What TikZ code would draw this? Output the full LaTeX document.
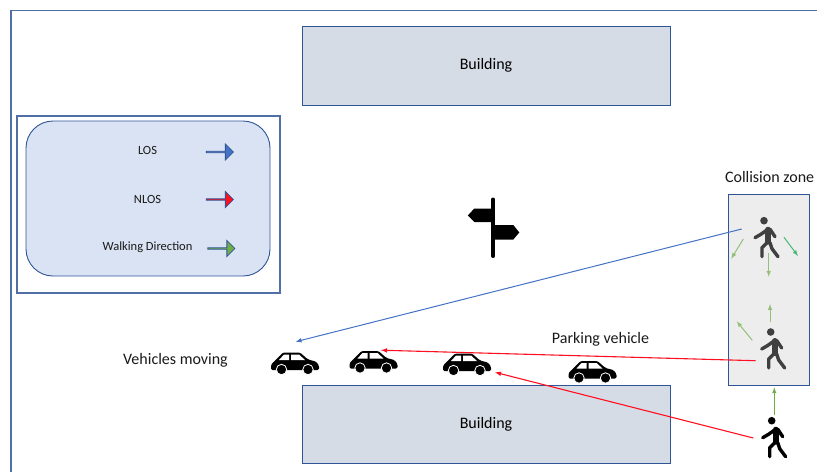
\documentclass[tikz,border=0pt]{standalone}
\usepackage{fontspec}
\setmainfont{Carlito}
\usepackage{tikz}
\usetikzlibrary{shapes,arrows,positioning}
\definecolor{frameblue}{HTML}{4F6FA5}
\definecolor{edgeblue}{HTML}{2F5597}
\definecolor{bldgfill}{HTML}{D6DCE5}
\definecolor{legendfill}{HTML}{DAE3F3}
\definecolor{zonefill}{HTML}{EDEDED}
\definecolor{losblue}{HTML}{4472C4}
\definecolor{nlosred}{HTML}{FF0F1F}
\definecolor{walkgreen}{HTML}{70AD47}
\definecolor{softgreen}{HTML}{93BF78}
\definecolor{tealgreen}{HTML}{4CB878}
\definecolor{pedgray}{HTML}{404040}
\tikzstyle{frame} = [draw=frameblue, line width=1.2pt]
\tikzstyle{bldg} = [draw=edgeblue, fill=bldgfill, line width=1pt, font=\fontsize{16}{19}\selectfont]
\tikzstyle{label16} = [font=\fontsize{16}{19}\selectfont, text=black!90]
\tikzstyle{label12} = [font=\fontsize{12.5}{15}\selectfont, text=black!90]
\tikzstyle{legarrow} = [single arrow, draw=edgeblue, line width=0.8pt, minimum height=27pt, minimum width=16pt, single arrow head extend=4pt, inner sep=0pt]
\tikzstyle{los} = [draw=losblue, line width=1pt, -latex]
\tikzstyle{nlos} = [draw=nlosred, line width=1.1pt, -latex]
\tikzstyle{walk} = [draw=softgreen, line width=1pt, -latex]
\tikzset{
	caricon/.pic={
		\fill [black, rounded corners=1.5pt] (0,17.5) -- (0,12) -- (4,8) -- (12,0) -- (29,0) -- (37,7) -- (45,9) -- (48,13) -- (48,17.5) -- cycle;
		\fill [white] (13,2) -- (18,2) -- (18,7.5) -- (8,7.5) -- cycle;
		\fill [white] (20,2) -- (28,2) -- (34,7.5) -- (20,7.5) -- cycle;
		\filldraw [black, draw=white, line width=0.8pt] (10.5,17) circle (5.2);
		\filldraw [black, draw=white, line width=0.8pt] (37,17) circle (5.2);
	},
	pedicon/.pic={
		\fill (0,0) circle (3.8);
		\draw [line width=6pt, line cap=round] (4,9) -- (4,21);
		\draw [line width=3.4pt, line cap=round, line join=round] (4,8.5) -- (-3,13.5) -- (-9,17);
		\draw [line width=3.4pt, line cap=round, line join=round] (6,8.5) -- (11,16);
		\draw [line width=3.4pt, line cap=round, line join=round] (3,22) -- (-2,27) -- (-2,36);
		\draw [line width=3.4pt, line cap=round, line join=round] (6,22) -- (8,28) -- (14,36);
	},
	signicon/.pic={
		\draw [black, line width=4pt, line cap=round] (0,0) -- (0,56.5);
		\fill [black] (0,9) -- (-19,9) -- (-25.5,16) -- (-19,22.5) -- (0,22.5) -- cycle;
		\fill [black] (0,25.5) -- (20,25.5) -- (26,33) -- (20,40) -- (0,40) -- cycle;
	}
}

\begin{document}
\begin{tikzpicture}[x=1pt, y=-1pt]
	\useasboundingbox (0,0) rectangle (817,472);
	\coordinate (framestart) at (817,10.5);
	\coordinate (framecorner) at (11,10.5);
	\coordinate (frameend) at (11,472);
	\path [frame] (framestart) -- (framecorner) -- (frameend);

	% buildings
	\node [bldg, minimum width=368pt, minimum height=79pt] (bldgtop) at (486,65.5) {Building};
	\node [bldg, minimum width=368pt, minimum height=78pt] (bldgbot) at (486,424.5) {Building};

	% legend
	\node [frame, minimum width=263pt, minimum height=177pt] (legendframe) at (148.5,204.5) {};
	\node [draw=edgeblue, fill=legendfill, line width=0.9pt, rounded corners=27pt, minimum width=244pt, minimum height=155pt] (legendbox) at (148,198.5) {};
	\node [label12] (lostext) at (147.5,150) {LOS};
	\node [label12] (nlostext) at (147.5,199) {NLOS};
	\node [label12] (walktext) at (147.5,247.5) {Walking Direction};
	\node [legarrow, fill=losblue] (losarrow) at (219.5,152) {};
	\node [legarrow, fill=nlosred] (nlosarrow) at (219.5,199.5) {};
	\node [legarrow, fill=walkgreen] (walkarrow) at (221,248.5) {};

	% collision zone
	\node [draw=edgeblue, fill=zonefill, line width=1pt, minimum width=81pt, minimum height=191pt] (zone) at (768.75,289.5) {};
	\node [label16, anchor=west] (zonetext) at (721.5,177) {Collision zone};

	% labels
	\node [label16] (movingtext) at (175.5,360) {Vehicles moving};
	\node [label16] (parkingtext) at (600.5,339) {Parking vehicle};

	% icons
	\pic (sign) at (493.3,199.5) {signicon};
	\pic (car1) at (271,352.5) {caricon};
	\pic (car2) at (349.5,351) {caricon};
	\pic (car3) at (443,353.5) {caricon};
	\pic (car4) at (568.5,361) {caricon};
	\pic [pedgray, draw=pedgray, fill=pedgray] (ped1) at (764,220.7) {pedicon};
	\pic [pedgray, draw=pedgray, fill=pedgray] (ped2) at (770.7,332) {pedicon};
	\pic [black, draw=black, fill=black] (ped3) at (771.7,420.7) {pedicon};

	% end points of the links
	\coordinate (a1) at (741.7,229);
	\coordinate (a2) at (295.7,341.7);
	\coordinate (b1) at (755.7,360.7);
	\coordinate (b2) at (381,350.2);
	\coordinate (c1) at (753.3,438);
	\coordinate (c2) at (495,372.3);
	\coordinate (d1) at (743.3,239);
	\coordinate (d2) at (731.3,258.7);
	\coordinate (e1) at (784,237.3);
	\coordinate (e2) at (798,256);
	\coordinate (f1) at (768.7,252.7);
	\coordinate (f2) at (768.7,276.7);
	\coordinate (g1) at (770,322.3);
	\coordinate (g2) at (770,304);
	\coordinate (h1) at (752.3,340.3);
	\coordinate (h2) at (736.7,321.3);
	\coordinate (i1) at (774.3,415);
	\coordinate (i2) at (774.3,387.3);

	\path [los] (a1) -- (a2);
	\path [nlos] (b1) -- (b2);
	\path [nlos] (c1) -- (c2);
	\path [walk] (d1) -- (d2);
	\path [walk, draw=tealgreen] (e1) -- (e2);
	\path [walk] (f1) -- (f2);
	\path [walk] (g1) -- (g2);
	\path [walk] (h1) -- (h2);
	\path [walk, draw=walkgreen] (i1) -- (i2);
\end{tikzpicture}
\end{document}
